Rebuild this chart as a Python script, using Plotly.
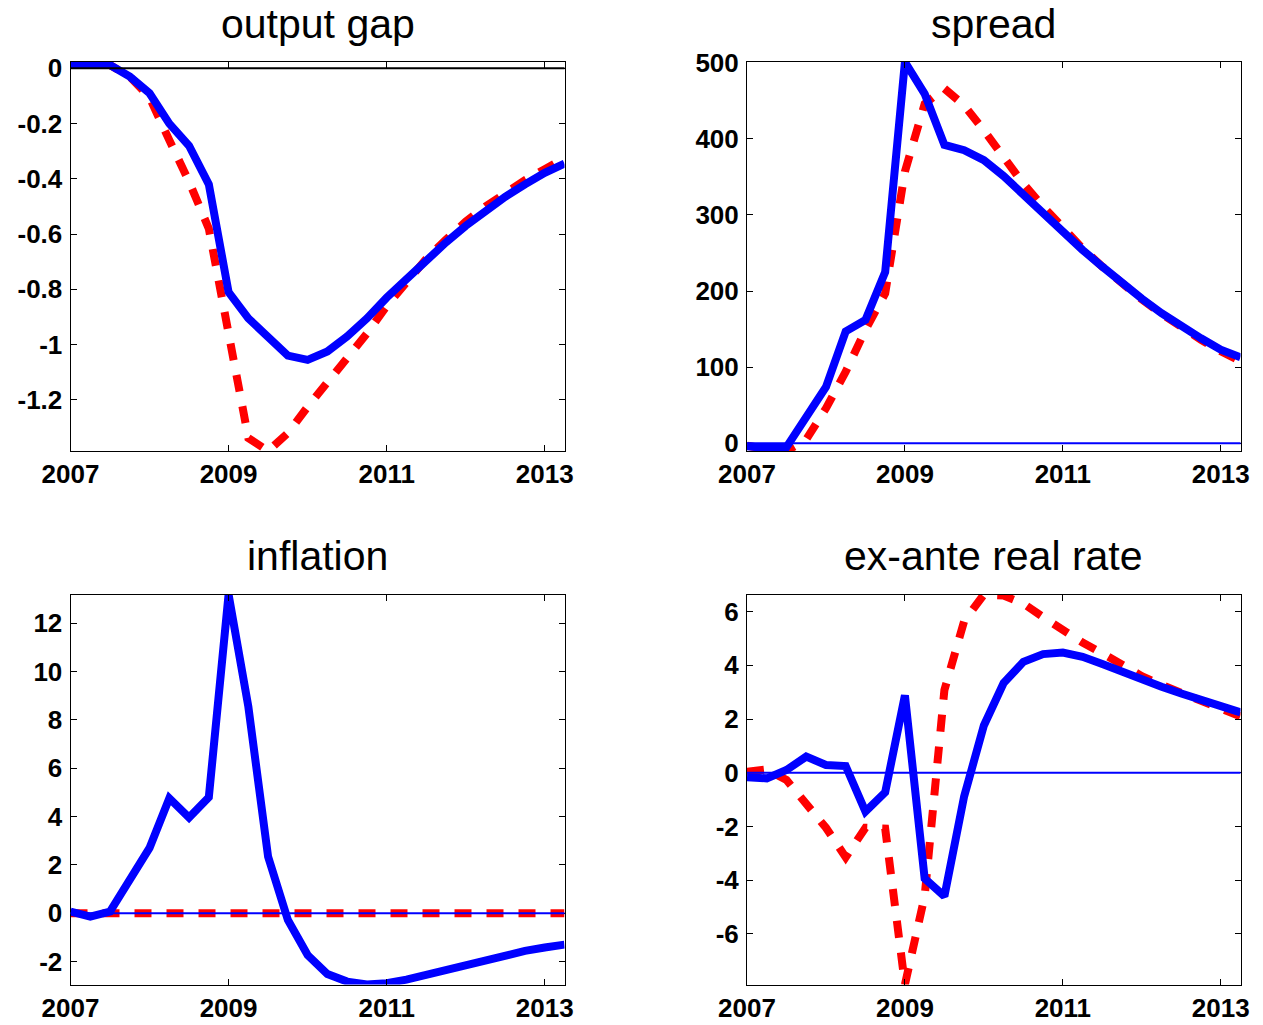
import plotly.graph_objects as go

# ---------------- data ----------------
quarters = [2007.0, 2007.25, 2007.5, 2007.75, 2008.0, 2008.25, 2008.5, 2008.75,
            2009.0, 2009.25, 2009.5, 2009.75, 2010.0, 2010.25, 2010.5, 2010.75,
            2011.0, 2011.25, 2011.5, 2011.75, 2012.0, 2012.25, 2012.5, 2012.75,
            2013.0, 2013.25]

output_gap_blue = [0.015, 0.015, 0.012, -0.03, -0.09, -0.2, -0.28, -0.42,
                   -0.81, -0.905, -0.97, -1.04, -1.055, -1.025, -0.97, -0.905,
                   -0.83, -0.76, -0.69, -0.63, -0.57, -0.515, -0.465, -0.42,
                   -0.378, -0.345]
output_gap_red = [0.015, 0.015, 0.012, -0.03, -0.105, -0.26, -0.41, -0.58,
                  -0.97, -1.338, -1.385, -1.32, -1.225, -1.14, -1.05, -0.96,
                  -0.86, -0.77, -0.69, -0.62, -0.555, -0.5, -0.45, -0.405,
                  -0.365, -0.325]

spread_blue = [-4, -6, -5, 37, 74, 147, 162, 225,
               500.9, 459, 392, 385, 372, 351, 326, 302,
               278, 254, 232, 210, 190, 171, 153, 138,
               123, 113]
spread_red = [-3, -8, -10.1, 5, 46, 94, 149, 197,
              357, 446, 466, 444, 411, 376, 341, 311,
              282, 256, 232, 210, 189, 170, 152, 136,
              121, 108]

inflation_blue = [0.07, -0.14, 0.07, 1.38, 2.7, 4.76, 3.96, 4.8,
                  13.19, 8.55, 2.34, -0.28, -1.73, -2.52, -2.83, -2.95,
                  -2.9, -2.75, -2.55, -2.32, -2.1, -1.9, -1.72, -1.56,
                  -1.42, -1.3]
inflation_red = [0, 0, 0, 0, 0, 0, 0, 0, 0, 0, 0, 0, 0,
                 0, 0, 0, 0, 0, 0, 0, 0, 0, 0, 0, 0, 0]

realrate_blue = [-0.17, -0.21, 0.1, 0.6, 0.29, 0.25, -1.45, -0.73,
                 2.88, -3.94, -4.6, -0.88, 1.76, 3.34, 4.13, 4.42,
                 4.48, 4.32, 4.05, 3.75, 3.45, 3.2, 2.95, 2.72,
                 2.48, 2.25]
realrate_red = [0.04, 0.12, -0.27, -1.2, -2.05, -3.15, -2.05, -2.08,
                -7.89, -4.6, 3.08, 5.65, 6.64, 6.6, 6.3, 5.8,
                5.32, 4.85, 4.45, 4.0, 3.6, 3.27, 2.98, 2.7,
                2.4, 2.1]

titles = ["output gap", "spread", "inflation", "ex-ante real rate"]
x_ticks = [2007, 2009, 2011, 2013]
x_ticktext = ["2007", "2009", "2011", "2013"]

y_ticks = [
    [0, -0.2, -0.4, -0.6, -0.8, -1, -1.2],
    [0, 100, 200, 300, 400, 500],
    [-2, 0, 2, 4, 6, 8, 10, 12],
    [-6, -4, -2, 0, 2, 4, 6],
]
y_ticktext = [
    ["0", "-0.2", "-0.4", "-0.6", "-0.8", "-1", "-1.2"],
    ["0", "100", "200", "300", "400", "500"],
    ["-2", "0", "2", "4", "6", "8", "10", "12"],
    ["-6", "-4", "-2", "0", "2", "4", "6"],
]
y_ranges = [[-1.385, 0.023], [-10.1, 500.9], [-2.95, 13.19], [-7.89, 6.64]]
x_range = [2007, 2013.25]

series = [
    (output_gap_blue, output_gap_red),
    (spread_blue, spread_red),
    (inflation_blue, inflation_red),
    (realrate_blue, realrate_red),
]
zero_colors = ["black", "blue", "blue", "blue"]

# ---------------- layout geometry ----------------
# page body margin is removed by a post script, so figure fills the window
OFF = 0
W, H = 1263, 1025
# screen-pixel positions of plot areas
x_doms_px = [(70.5, 564.5), (747, 1240.5)]
y_doms_px = [(62, 451), (594.5, 984.5)]
title_y_px = [24, 556]

fig = go.Figure()
layout = dict(
    width=W, height=H,
    margin=dict(l=0, r=0, t=0, b=0, autoexpand=False),
    paper_bgcolor="white", plot_bgcolor="white",
    showlegend=False,
    template="none",
)

font_family = "Liberation Sans, Arial, Helvetica, sans-serif"
annotations = []
shapes = []


def fx(px):
    return (px - OFF) / W


def fy(py):
    return 1 - (py - OFF) / H


for i in range(4):
    r, c = divmod(i, 2)
    xd = x_doms_px[c]
    yd = y_doms_px[r]
    xn = "x" if i == 0 else f"x{i+1}"
    yn = "y" if i == 0 else f"y{i+1}"
    xa = "xaxis" if i == 0 else f"xaxis{i+1}"
    ya = "yaxis" if i == 0 else f"yaxis{i+1}"
    layout[xa] = dict(
        domain=[fx(xd[0]), fx(xd[1])], anchor=yn, range=x_range,
        tickvals=x_ticks, ticktext=x_ticktext, automargin=False,
        ticks="inside", ticklen=6, tickwidth=1, tickcolor="black",
        showline=True, linecolor="black", linewidth=1, mirror="allticks",
        showgrid=False, zeroline=False,
        tickfont=dict(family=font_family, size=26, color="black", weight="bold"),
        ticklabelstandoff=0,
    )
    layout[ya] = dict(
        domain=[fy(yd[1]), fy(yd[0])], anchor=xn, range=y_ranges[i],
        tickvals=y_ticks[i], ticktext=y_ticktext[i], automargin=False,
        ticks="inside", ticklen=6, tickwidth=1, tickcolor="black",
        showline=True, linecolor="black", linewidth=1, mirror="allticks",
        showgrid=False, zeroline=False,
        tickfont=dict(family=font_family, size=26, color="black", weight="bold"),
        ticklabelstandoff=2,
    )
    blue, red = series[i]
    fig.add_trace(go.Scatter(
        x=quarters, y=red, mode="lines", xaxis=xn, yaxis=yn,
        line=dict(color="#ff0000", width=8, dash="17px,15px"),
        hoverinfo="skip",
    ))
    fig.add_trace(go.Scatter(
        x=quarters, y=blue, mode="lines", xaxis=xn, yaxis=yn,
        line=dict(color="#0000ff", width=8),
        hoverinfo="skip",
    ))
    shapes.append(dict(
        type="line", xref=f"{xn} domain", yref=yn, x0=0, x1=1, y0=0, y1=0,
        line=dict(color=zero_colors[i], width=2), layer="above",
    ))
    annotations.append(dict(
        text=titles[i], xref="paper", yref="paper",
        x=fx((xd[0] + xd[1]) / 2), y=fy(title_y_px[r]),
        xanchor="center", yanchor="middle", showarrow=False,
        font=dict(family=font_family, size=41, color="black"),
    ))

layout["annotations"] = annotations
layout["shapes"] = shapes
fig.update_layout(**layout)
fig.write_html(
    "out.html",
    config={"displayModeBar": False},
    post_script="document.body.style.margin='0px'; document.body.style.overflow='hidden';",
)
